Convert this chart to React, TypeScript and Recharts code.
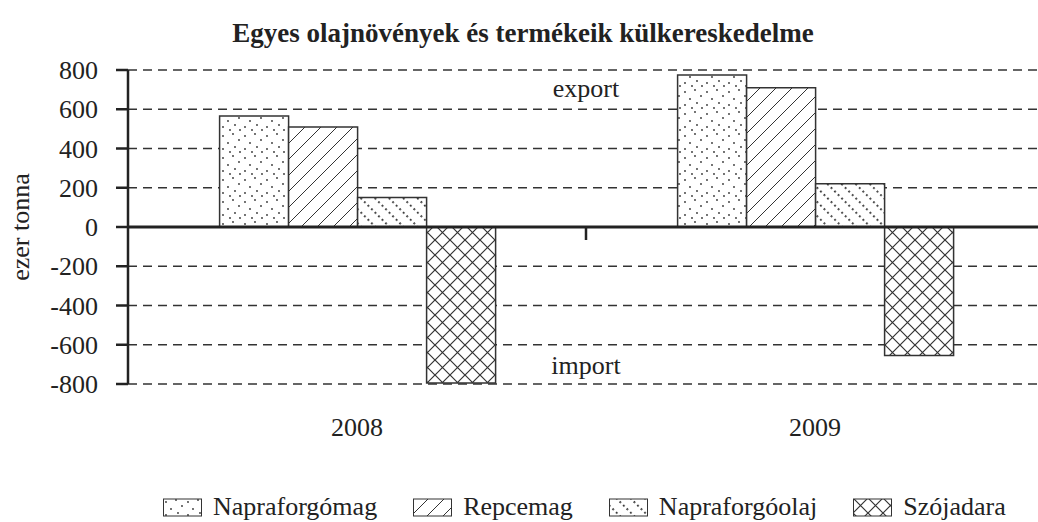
import { BarChart, Bar, XAxis, YAxis, CartesianGrid, ReferenceLine, Label } from 'recharts'

const years = ['2008', '2009']
const napraforgomag = [565, 775]
const repcemag = [510, 710]
const napraforgoolaj = [150, 220]
const szojadara = [-795, -655]
const yTicks = [-800, -600, -400, -200, 0, 200, 400, 600, 800]

const series = [
  { key: 'napraforgomag', name: 'Napraforgómag', fill: 'url(#pDots)' },
  { key: 'repcemag', name: 'Repcemag', fill: 'url(#pSlash)' },
  { key: 'napraforgoolaj', name: 'Napraforgóolaj', fill: 'url(#pDotLine)' },
  { key: 'szojadara', name: 'Szójadara', fill: 'url(#pCross)' },
]

const data = years.map((year, i) => ({
  year,
  napraforgomag: napraforgomag[i],
  repcemag: repcemag[i],
  napraforgoolaj: napraforgoolaj[i],
  szojadara: szojadara[i],
}))

const font = '"Liberation Serif", "Times New Roman", serif'
const ink = '#222'
const fs = 26

// solid zero line with the little tick between the two years
const ZeroAxis = (p: any) => {
  const mid = (p.x1 + p.x2) / 2
  return (
    <g>
      <line x1={p.x1} y1={p.y1} x2={p.x2} y2={p.y2} stroke={ink} strokeWidth={3} />
      <line x1={mid} y1={p.y1} x2={mid} y2={p.y1 + 13} stroke={ink} strokeWidth={2.5} />
    </g>
  )
}

const Patterns = () => (
  <defs>
    <pattern id="pDots" patternUnits="userSpaceOnUse" width="22" height="22">
      <rect width="22" height="22" fill="#fff" />
      <circle cx="3" cy="4" r="0.9" fill="#333" />
      <circle cx="13" cy="2" r="0.9" fill="#333" />
      <circle cx="19" cy="8" r="0.9" fill="#333" />
      <circle cx="8" cy="11" r="0.9" fill="#333" />
      <circle cx="15" cy="15" r="0.9" fill="#333" />
      <circle cx="3" cy="17" r="0.9" fill="#333" />
      <circle cx="10" cy="20" r="0.9" fill="#333" />
      <circle cx="20" cy="20" r="0.9" fill="#333" />
    </pattern>
    <pattern id="pSlash" patternUnits="userSpaceOnUse" width="16" height="16">
      <rect width="16" height="16" fill="#fff" />
      <path d="M0,16 L16,0 M-4,4 L4,-4 M12,20 L20,12" stroke="#333" strokeWidth="1" />
    </pattern>
    <pattern id="pDotLine" patternUnits="userSpaceOnUse" width="10" height="10" patternTransform="rotate(-45)">
      <rect width="10" height="10" fill="#fff" />
      <line x1="5" y1="0" x2="5" y2="10" stroke="#222" strokeWidth="1.8" strokeDasharray="1.8 3.2" />
    </pattern>
    <pattern id="pCross" patternUnits="userSpaceOnUse" width="15" height="15">
      <rect width="15" height="15" fill="#fff" />
      <path d="M0,0 L15,15 M15,0 L0,15" stroke="#333" strokeWidth="1.2" />
    </pattern>
  </defs>
)

export default function App() {
  return (
    <div
      style={{
        position: 'absolute',
        left: 0,
        top: 0,
        width: 1038,
        height: 522,
        overflow: 'hidden',
        background: '#fff',
        fontFamily: font,
        color: ink,
      }}
    >
      <div
        style={{
          position: 'absolute',
          top: 17,
          left: 4,
          width: 1038,
          textAlign: 'center',
          fontWeight: 'bold',
          fontSize: 27,
          lineHeight: '32px',
        }}
      >
        Egyes olajnövények és termékeik külkereskedelme
      </div>

      <BarChart
        width={1046}
        height={522}
        data={data}
        margin={{ top: 70, right: 2, bottom: 78, left: 0 }}
        barCategoryGap="20%"
        barGap={0}
        style={{ position: 'absolute', left: 0, top: 0 }}
      >
        <Patterns />
        <CartesianGrid
          vertical={false}
          stroke="#333"
          strokeWidth={1.4}
          strokeDasharray="9 6"
        />
        <XAxis
          dataKey="year"
          axisLine={false}
          tickLine={false}
          height={60}
          tickMargin={28}
          tick={{ fill: ink, fontSize: fs, fontFamily: font }}
        />
        <YAxis
          width={128}
          domain={[-800, 800]}
          ticks={yTicks}
          interval={0}
          allowDataOverflow
          axisLine={{ stroke: ink, strokeWidth: 2.5 }}
          tickLine={{ stroke: ink, strokeWidth: 2.5 }}
          tickSize={12}
          tickMargin={18}
          tick={{ fill: ink, fontSize: fs, fontFamily: font }}
        >
          <Label
            content={({ viewBox }: any) => {
              const cx = viewBox.x + 20
              const cy = viewBox.y + viewBox.height / 2
              return (
                <text
                  x={cx}
                  y={cy}
                  transform={`rotate(-90, ${cx}, ${cy})`}
                  textAnchor="middle"
                  dominantBaseline="central"
                  fontSize={fs}
                  fontFamily={font}
                  fill={ink}
                >
                  ezer tonna
                </text>
              )
            }}
          />
        </YAxis>
        {series.map(s => (
          <Bar
            key={s.key}
            dataKey={s.key}
            name={s.name}
            fill={s.fill}
            stroke="#333"
            strokeWidth={1.5}
            isAnimationActive={false}
          />
        ))}
        <ReferenceLine y={0} shape={ZeroAxis} />
        <ReferenceLine
          y={710}
          stroke="none"
          label={{ value: 'export', position: 'center', fill: ink, fontSize: fs, fontFamily: font }}
        />
        <ReferenceLine
          y={-700}
          stroke="none"
          label={{ value: 'import', position: 'center', fill: ink, fontSize: fs, fontFamily: font }}
        />
      </BarChart>

      <div
        style={{
          position: 'absolute',
          left: 163,
          top: 491,
          display: 'flex',
          alignItems: 'center',
          gap: 36,
          fontSize: fs,
          lineHeight: '32px',
          whiteSpace: 'nowrap',
        }}
      >
        {series.map(s => (
          <div key={s.key} style={{ display: 'flex', alignItems: 'center' }}>
            <svg width={40} height={19} style={{ marginRight: 10 }}>
              <rect x={0.5} y={1} width={38} height={17} fill={s.fill} stroke="#333" strokeWidth={1} />
            </svg>
            <span>{s.name}</span>
          </div>
        ))}
      </div>
    </div>
  )
}
